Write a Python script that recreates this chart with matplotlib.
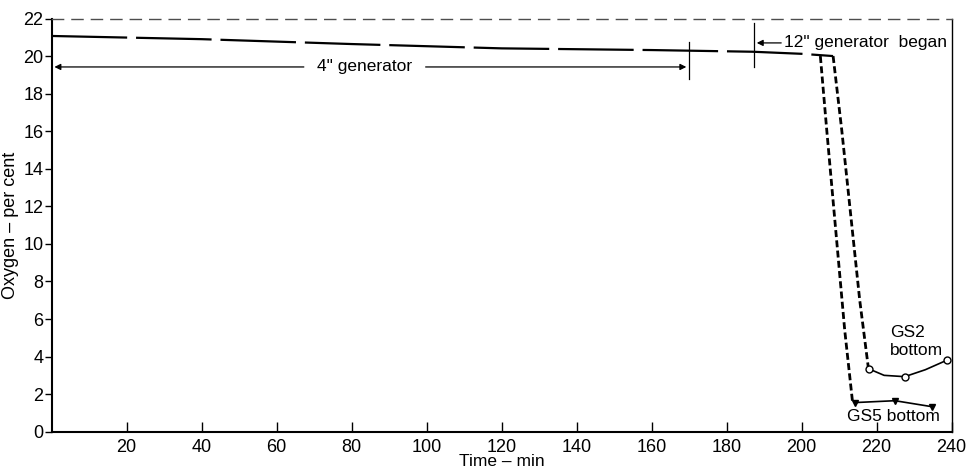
import matplotlib.pyplot as plt

plt.rcParams['font.family'] = ['Liberation Sans', 'DejaVu Sans']

# oxygen at generator level, both stations together until the drop
main_t = [0, 40, 80, 120, 160, 187, 200, 208.4]
main_o2 = [21.07, 20.9, 20.64, 20.41, 20.32, 20.23, 20.12, 20.0]

# GS5 drop (branches from main curve)
gs5_drop_t = [205, 206.7, 211.5, 213.6]
gs5_drop_o2 = [20.0, 16.07, 5.4, 1.55]
gs5_t = [214.2, 224.9, 234.8]
gs5_o2 = [1.55, 1.65, 1.33]

# GS2 drop
gs2_drop_t = [208.4, 210.7, 215.5, 217.8]
gs2_drop_o2 = [20.0, 16.07, 7.0, 3.4]
gs2_curve_t = [218, 222, 227.5, 233, 238.9]
gs2_curve_o2 = [3.34, 3.0, 2.93, 3.3, 3.82]
gs2_t = [218, 227.5, 238.9]
gs2_o2 = [3.34, 2.93, 3.82]

fig = plt.figure(figsize=(9.74, 4.72), dpi=100)
ax = fig.add_axes([0.053, 0.0854, 0.924, 0.8754])

ax.plot(main_t, main_o2, color='black', lw=1.6, dashes=(34, 4))
ax.plot(gs5_drop_t, gs5_drop_o2, color='black', lw=2.0, dashes=(2.5, 1.2))
ax.plot(gs2_drop_t, gs2_drop_o2, color='black', lw=2.0, dashes=(2.5, 1.2))

ax.plot(gs5_t, gs5_o2, color='black', lw=1.2)
ax.plot(gs5_t, gs5_o2, 'v', color='black', ms=5, ls='none')
ax.plot(gs2_curve_t, gs2_curve_o2, color='black', lw=1.2)
ax.plot(gs2_t, gs2_o2, 'o', mfc='white', mec='black', ms=5, mew=1.0, ls='none')

fs = 12.5

# 4" generator span
ax.plot([170, 170], [18.8, 20.75], color='black', lw=0.9)
ax.annotate('', xy=(0, 19.42), xytext=(68, 19.42),
            arrowprops=dict(arrowstyle='-|>', color='black', lw=0.9, mutation_scale=9))
ax.annotate('', xy=(170, 19.42), xytext=(99, 19.42),
            arrowprops=dict(arrowstyle='-|>', color='black', lw=0.9, mutation_scale=9))
ax.text(83.5, 19.42, '4" generator', ha='center', va='center', fontsize=fs)

# 12" generator began
ax.plot([187.3, 187.3], [19.4, 21.76], color='black', lw=0.9)
ax.annotate('', xy=(187.3, 20.7), xytext=(195.3, 20.7),
            arrowprops=dict(arrowstyle='-|>', color='black', lw=0.9, mutation_scale=9))
ax.text(195.3, 20.7, '12" generator  began', ha='left', va='center', fontsize=fs)

ax.text(223.6, 5.3, 'GS2', ha='left', va='center', fontsize=fs)
ax.text(223.6, 4.3, 'bottom', ha='left', va='center', fontsize=fs)
ax.text(212.0, 0.8, 'GS5 bottom', ha='left', va='center', fontsize=fs)

ax.set_xlim(0, 240)
ax.set_ylim(0, 22)
ax.set_xticks(range(20, 241, 20))
ax.set_yticks(range(0, 23, 2))
ax.tick_params(axis='x', direction='in', length=7, width=1, labelsize=13, pad=5)
ax.tick_params(axis='y', direction='out', length=5, width=1, labelsize=13, pad=1)
ax.set_xlabel('Time \u2013 min', fontsize=12.5, labelpad=-1)
ax.set_ylabel('Oxygen \u2013 per cent', fontsize=13, labelpad=3)

for s in ['left', 'bottom']:
    ax.spines[s].set_linewidth(1.5)
ax.spines['right'].set_linewidth(1.0)
ax.spines['top'].set_linewidth(1.0)
ax.spines['top'].set_linestyle((0, (8, 6)))
ax.spines['top'].set_color('0.3')

fig.savefig('out.png', dpi=100)
